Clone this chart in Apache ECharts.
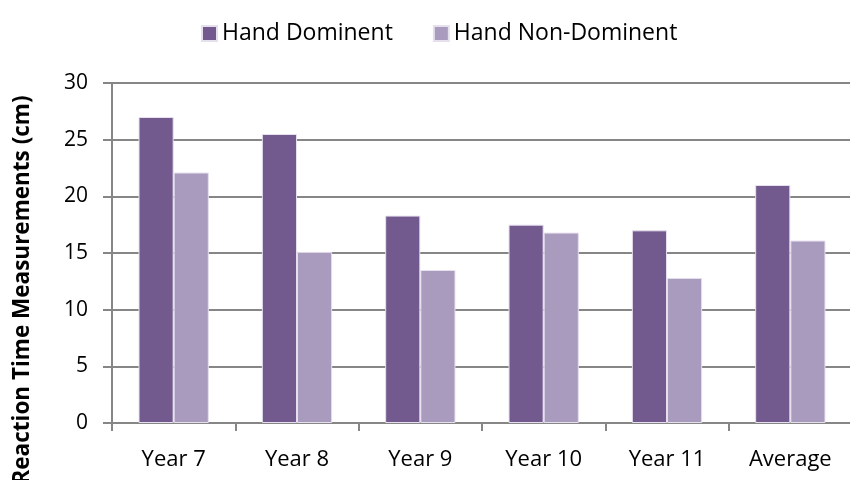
<!DOCTYPE html>
<html>
<head>
<meta charset="utf-8">
<script src="https://cdn.jsdelivr.net/npm/echarts@6/dist/echarts.min.js"></script>
<style>html,body{margin:0;padding:0;background:#fff}#c{width:850px;height:480px}</style>
</head>
<body>
<div id="c"></div>
<script>
const categories = ['Year 7', 'Year 8', 'Year 9', 'Year 10', 'Year 11', 'Average'];
const handDominent = [27.0, 25.5, 18.3, 17.5, 17.0, 21.0];
const handNonDominent = [22.1, 15.1, 13.5, 16.8, 12.8, 16.1];
const yTicks = [0, 5, 10, 15, 20, 25, 30];

const FONT = 'Open Sans';
const chart = echarts.init(document.getElementById('c'));
chart.setOption({
  animation: false,
  textStyle: { fontFamily: FONT },
  legend: {
    top: 17,
    left: 196,
    itemWidth: 15,
    itemHeight: 15,
    itemGap: 40,
    icon: 'rect',
    textStyle: { fontSize: 23, color: '#000', fontFamily: FONT },
    data: ['Hand Dominent', 'Hand Non-Dominent']
  },
  grid: { left: 112, width: 740, top: 83, bottom: 57, containLabel: false, outerBoundsMode: 'none' },
  xAxis: {
    type: 'category',
    data: categories,
    boundaryGap: true,
    axisLine: { lineStyle: { color: '#868686', width: 2 } },
    axisTick: { show: true, length: 8, alignWithLabel: false, lineStyle: { color: '#868686', width: 2 } },
    axisLabel: { fontSize: 22, color: '#000', margin: 26, fontFamily: FONT }
  },
  yAxis: {
    type: 'value',
    min: yTicks[0],
    max: yTicks[yTicks.length - 1],
    interval: 5,
    name: 'Reaction Time Measurements (cm)',
    nameLocation: 'middle',
    nameRotate: 90,
    nameGap: 78,
    nameTextStyle: { fontSize: 22.5, fontWeight: 'bold', color: '#000', fontFamily: FONT, padding: [0, 74, 0, 0] },
    axisLine: { show: true, lineStyle: { color: '#868686', width: 2 } },
    axisTick: { show: true, length: 9, inside: false, lineStyle: { color: '#868686', width: 2 } },
    splitLine: { show: true, lineStyle: { color: '#868686', width: 2 } },
    axisLabel: { fontSize: 21, color: '#000', margin: 24, fontFamily: FONT }
  },
  series: [
    {
      name: 'Hand Dominent',
      type: 'bar',
      data: handDominent,
      barCategoryGap: '43%',
      barGap: '0%',
      itemStyle: { color: '#725A8E', borderColor: '#E6E0EE', borderWidth: 1 }
    },
    {
      name: 'Hand Non-Dominent',
      type: 'bar',
      data: handNonDominent,
      barCategoryGap: '43%',
      barGap: '0%',
      itemStyle: { color: '#A99BBE', borderColor: '#E6E0EE', borderWidth: 1 }
    }
  ]
});
</script>
</body>
</html>
